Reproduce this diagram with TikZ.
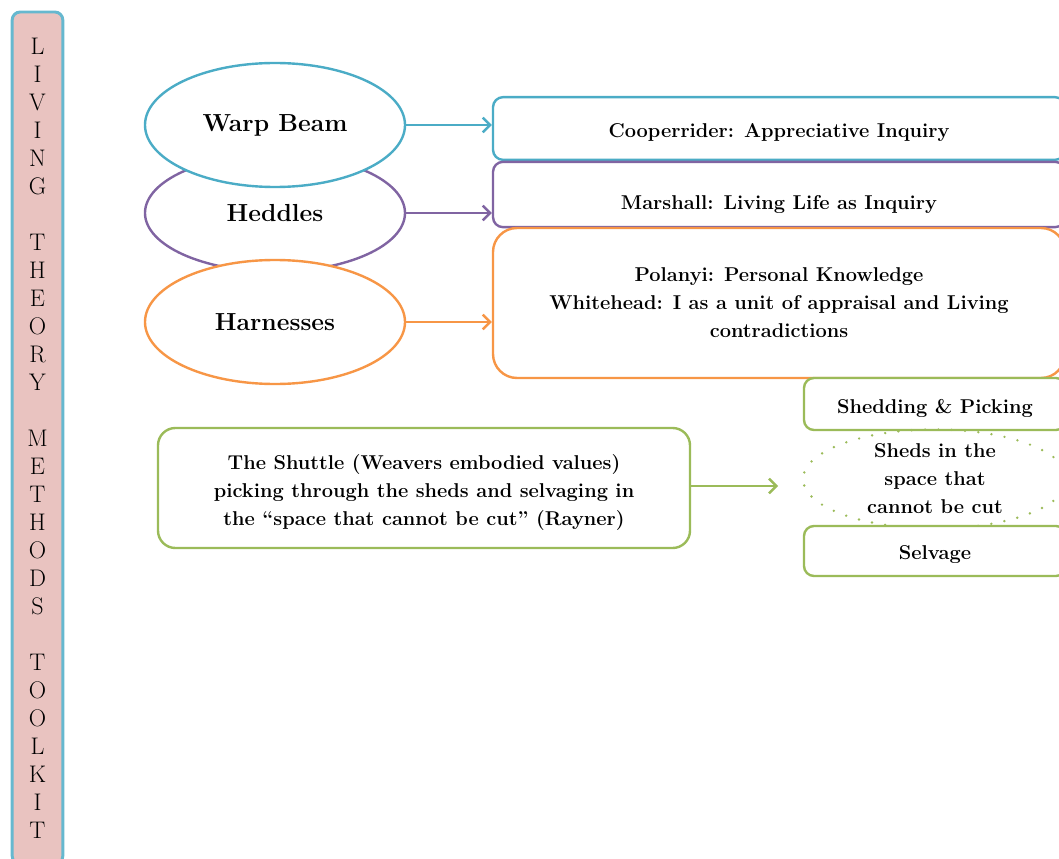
\documentclass[tikz,border=0pt]{standalone}
\usepackage{fontspec}
\usetikzlibrary{shapes.geometric,arrows.meta}
\definecolor{beamblue}{HTML}{4BACC6}
\definecolor{heddlepurple}{HTML}{8064A2}
\definecolor{harnessorange}{HTML}{F79646}
\definecolor{shuttlegreen}{HTML}{9BBB59}
\definecolor{barpink}{HTML}{E9C3C0}
\tikzset{
  loombox/.style={draw, rounded corners=7.5pt, line width=1.8pt, fill=white, align=center,
    inner sep=0pt, font=\bfseries\fontsize{15}{21}\selectfont},
  loompart/.style={ellipse, draw, line width=1.8pt, fill=white, minimum width=195pt,
    minimum height=93pt, inner sep=0pt, font=\bfseries\fontsize{18.5}{22}\selectfont},
  drop/.style={text depth=3pt, text height=#1},
  feed/.style={-{Straight Barb[length=5.5pt,width=11pt]}, line width=1.8pt}
}
\begin{document}
\begin{tikzpicture}[x=0.75pt,y=-0.75pt]
  \useasboundingbox (0,0) rectangle (1059,859);
  \clip (0,0) rectangle (1059,859);

  % side bar
  \node[draw=beamblue!85, fill=barpink, rounded corners=6pt, line width=2.2pt, minimum width=38pt,
    minimum height=639pt, inner sep=0pt, align=center, font=\fontsize{18}{21}\selectfont]
    (bar) at (37.5,438) {L\\I\\V\\I\\N\\G\\[21pt]T\\H\\E\\O\\R\\Y\\[21pt]M\\E\\T\\H\\O\\D\\S\\[21pt]T\\O\\O\\L\\K\\I\\T};

  % loom parts
  \node[loompart, draw=heddlepurple, minimum height=88pt] (heddles) at (275,213) {Heddles};
  \node[loompart, draw=beamblue] (warp) at (275,125) {Warp Beam};
  \node[loompart, draw=harnessorange] (harness) at (275,322) {Harnesses};

  % sources
  \node[loombox, draw=beamblue, drop=17pt, minimum width=429pt, minimum height=47pt] (coop) at (779,128.5)
    {Cooperrider: Appreciative Inquiry};
  \node[loombox, draw=heddlepurple, drop=25pt, minimum width=429pt, minimum height=49pt] (marshall) at (779,194.5)
    {Marshall: Living Life as Inquiry};
  \node[loombox, draw=harnessorange, rounded corners=18pt, minimum width=429pt, minimum height=112.5pt]
    (polanyi) at (779,303)
    {Polanyi: Personal Knowledge\\Whitehead: I as a unit of appraisal and Living\\contradictions};

  \draw[feed, beamblue] (warp.east) -- (warp.east -| coop.west);
  \draw[feed, heddlepurple] (heddles.east) -- (heddles.east -| marshall.west);
  \draw[feed, harnessorange] (harness.east) -- (harness.east -| polanyi.west);

  % shuttle
  \node[loombox, draw=shuttlegreen, rounded corners=13pt, minimum width=399pt, minimum height=90pt]
    (shuttle) at (424,488)
    {\rule{0pt}{18.5pt}The Shuttle (Weavers embodied values)\\picking through the sheds and selvaging in\\the ``space that cannot be cut'' (Rayner)};
  \node[loombox, draw=shuttlegreen, drop=17pt, minimum width=196.5pt, minimum height=39pt] (shedding) at (935,404)
    {Shedding \& Picking};
  \node[ellipse, draw=shuttlegreen, line width=2pt, line cap=round, dash pattern=on 0pt off 10pt,
    minimum width=198pt, minimum height=73.5pt, inner sep=0pt, align=center,
    font=\bfseries\fontsize{15}{21}\selectfont] (sheds) at (935,479)
    {Sheds in the\\space that\\cannot be cut};
  \node[loombox, draw=shuttlegreen, drop=15.5pt, minimum width=196.5pt, minimum height=37.5pt] (selvage) at (935,551)
    {Selvage};
  \coordinate (shed in) at (778,486);
  \draw[feed, shuttlegreen] (shuttle.east |- shed in) -- (shed in);
\end{tikzpicture}
\end{document}
